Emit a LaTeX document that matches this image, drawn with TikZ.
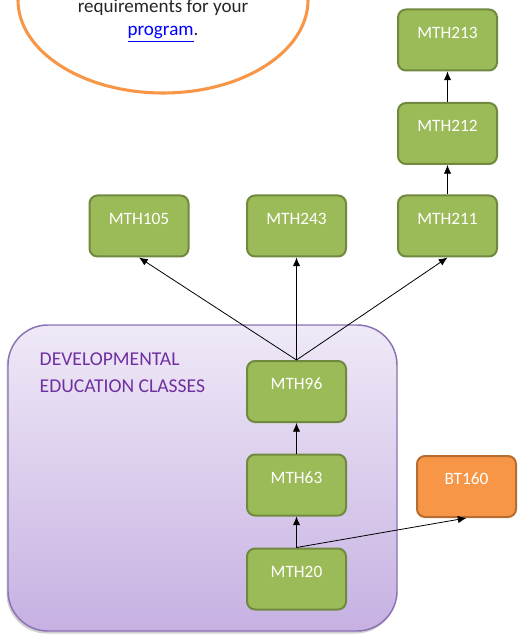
\documentclass[tikz,border=0pt]{standalone}
\usepackage{fontspec}
\setmainfont{Carlito}
\usetikzlibrary{arrows.meta}
\definecolor{grnfill}{HTML}{9BBB59}
\definecolor{grnline}{HTML}{71893F}
\definecolor{orgfill}{HTML}{F79646}
\definecolor{orgline}{HTML}{B66D31}
\definecolor{devtop}{HTML}{EFE9F7}
\definecolor{devbot}{HTML}{C6B1E2}
\definecolor{devline}{HTML}{8B72B5}
\definecolor{devtext}{HTML}{7030A0}
\definecolor{linkblue}{HTML}{0000FF}
\tikzstyle{course} = [rectangle, rounded corners=6pt, draw=grnline, fill=grnfill, line width=1.5pt, minimum width=74.25pt, inner sep=0pt, text height=21.4pt, text depth=24.35pt, text=white, font=\fontsize{13}{15}\selectfont]
\tikzstyle{elective} = [course, draw=orgline, fill=orgfill]
\tikzstyle{prereq} = [-{Latex[length=6.5pt,width=5.5pt]}, line width=0.6pt]

\begin{document}
\begin{tikzpicture}[x=0.75pt,y=-0.75pt]%
	\useasboundingbox (0,0) rectangle (524,634);%
	\fill[white] (0,0) rectangle (524,634);%
	\clip (0,0) rectangle (524,634);%
	% note circle at the top
	\draw[orgfill, line width=2.3pt] (163,0) ellipse [x radius=145, y radius=93];%
	\node[anchor=base, font=\fontsize{14.3}{17}\selectfont, text=black!85] (reqline) at (163,12.7) {requirements for your};%
	\node[anchor=base, font=\fontsize{14.3}{17}\selectfont, text=black!85] (proglink) at (163,36) {\textcolor{linkblue}{\underline{program}}.};%
	% developmental education box
	\fill[black!30, opacity=.6, rounded corners=30pt] (6.5,327.5) rectangle (396,633.5);%
	\shade[top color=devtop, bottom color=devbot, draw=devline, line width=1.1pt, rounded corners=30pt] (8,325) rectangle (397,631);%
	\node[anchor=base west, align=left, text=devtext, font=\fontsize{14.7}{20.3}\selectfont] (devlabel) at (35,392.5) {DEVELOPMENTAL\\EDUCATION CLASSES};%
	% courses
	\node[course] (mth213) at (447.5,40) {MTH213};%
	\node[course] (mth212) at (447.5,133.5) {MTH212};%
	\node[course] (mth211) at (447.5,226) {MTH211};%
	\node[course] (mth105) at (139,226) {MTH105};%
	\node[course] (mth243) at (296.5,226) {MTH243};%
	\node[course] (mth96) at (296.5,391.5) {MTH96};%
	\node[course] (mth63) at (296.5,485) {MTH63};%
	\node[course] (mth20) at (296.5,579) {MTH20};%
	\node[elective] (bt160) at (466.5,486.5) {BT160};%
	% prerequisites
	\draw[prereq] (mth20.north) -- (mth63.south);%
	\draw[prereq] (mth20.north) -- (bt160.south);%
	\draw[prereq] (mth63.north) -- (mth96.south);%
	\draw[prereq] (mth96.north) -- (mth105.south);%
	\draw[prereq] (mth96.north) -- (mth243.south);%
	\draw[prereq] (mth96.north) -- (mth211.south);%
	\draw[prereq] (mth211.north) -- (mth212.south);%
	\draw[prereq] (mth212.north) -- (mth213.south);%
\end{tikzpicture}
\end{document}
